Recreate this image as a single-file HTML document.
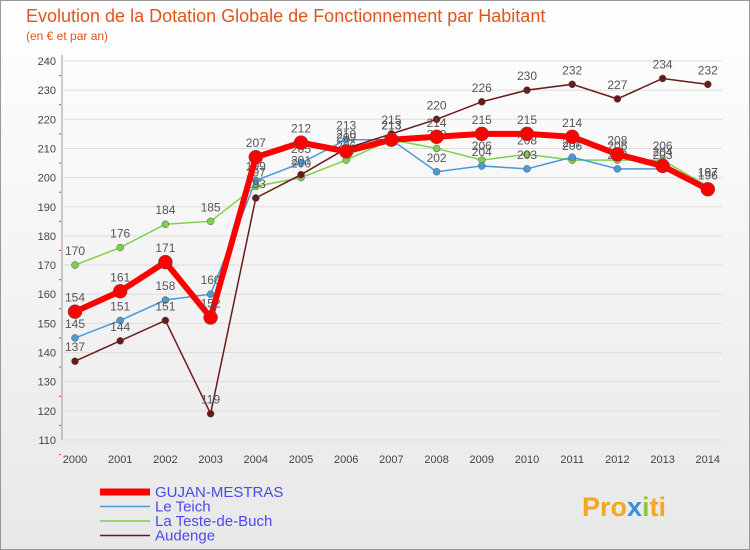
<!DOCTYPE html>
<html><head><meta charset="utf-8"><style>
body{margin:0;width:750px;height:550px;font-family:"Liberation Sans",sans-serif;overflow:hidden}
#bg{position:absolute;left:0;top:0;width:748px;height:548px;border:1px solid #999;background:linear-gradient(#fff,#e8e8e8)}
</style></head><body>
<div id="bg"></div>
<svg id="c" width="750" height="550" style="position:absolute;left:0;top:0">
<text x="26" y="22" font-size="18" fill="#e2541b">Evolution de la Dotation Globale de Fonctionnement par Habitant</text>
<text x="26" y="40" font-size="12" fill="#e2541b">(en € et par an)</text>
<g id="g"></g>
<text x="582" y="516" font-size="27" font-weight="bold" fill="#f5a623">Pro<tspan fill="#3b8fd8">x</tspan><tspan fill="#8cc63f">i</tspan>ti</text>
</svg>
<script>
const years=["2000","2001","2002","2003","2004","2005","2006","2007","2008","2009","2010","2011","2012","2013","2014"];
const yTicks=[110,120,130,140,150,160,170,180,190,200,210,220,230,240];
const gujan=[154,161,171,152,207,212,209,213,214,215,215,214,208,204,196];
const teich=[145,151,158,160,199,205,213,213,202,204,203,207,203,203,197];
const teste=[170,176,184,185,197,200,206,213,210,206,208,206,206,206,197];
const audenge=[137,144,151,119,193,201,210,215,220,226,230,232,227,234,232];
const NS="http://www.w3.org/2000/svg",g=document.getElementById('g');
const X=i=>75+i*45.2, Y=v=>61+(240-v)*2.915;
function el(t,a,p){const e=document.createElementNS(NS,t);for(const k in a)e.setAttribute(k,a[k]);(p||g).appendChild(e);return e;}
let ax=el('line',{x1:62,y1:440,x2:722,y2:440,stroke:'#999'});

let ay=el('line',{x1:62,y1:55,x2:62,y2:440,stroke:'#999'});

yTicks.forEach(v=>{
 let l=el('line',{x1:62,y1:Y(v),x2:722,y2:Y(v),stroke:'#ddd'});
 
 let m=el('line',{x1:59,y1:Y(v)+14.6,x2:61,y2:Y(v)+14.6,stroke:'#e33'});
 
 let t=el('text',{x:56,y:Y(v)+4,'font-size':11,'text-anchor':'end',fill:'#444'});t.textContent=v;
 
});
years.forEach((y,i)=>{
 let t=el('text',{x:X(i),y:463,'font-size':11,'text-anchor':'middle',fill:'#444'});t.textContent=y;
 
});
const series=[[teste,'#7ed04a',1.5,3.5,'la-teste'],[teich,'#4a9ad8',1.5,3.5,'le-teich'],[audenge,'#6b1a1a',1.5,3.5,'audenge'],[gujan,'#ff0000',6,7,'gujan-mestras']];
series.forEach(([d,c,w,r,n])=>{
 let p=el('polyline',{points:d.map((v,i)=>X(i)+','+Y(v)).join(' '),fill:'none',stroke:c,'stroke-width':w});
 
 d.forEach((v,i)=>{
  let ci=el('circle',{cx:X(i),cy:Y(v),r:r,fill:c,stroke:'#555','stroke-width':0.5});
  
  let t=el('text',{x:X(i),y:Y(v)-10,'font-size':12,'text-anchor':'middle',fill:'#555'});t.textContent=v;
  
 });
});
const leg=[['GUJAN-MESTRAS','#ff0000',7],['Le Teich','#4a9ad8',1.5],['La Teste-de-Buch','#7ed04a',1.5],['Audenge','#6b1a1a',1.5]];
leg.forEach(([n,c,w],i)=>{
 const y=492+i*14.5;
 let l=el('line',{x1:100,y1:y,x2:150,y2:y,stroke:c,'stroke-width':w});
 
 let t=el('text',{x:155,y:y+5,'font-size':15,fill:'#4a4aee'});t.textContent=n;
 
});
</script>
</body></html>
